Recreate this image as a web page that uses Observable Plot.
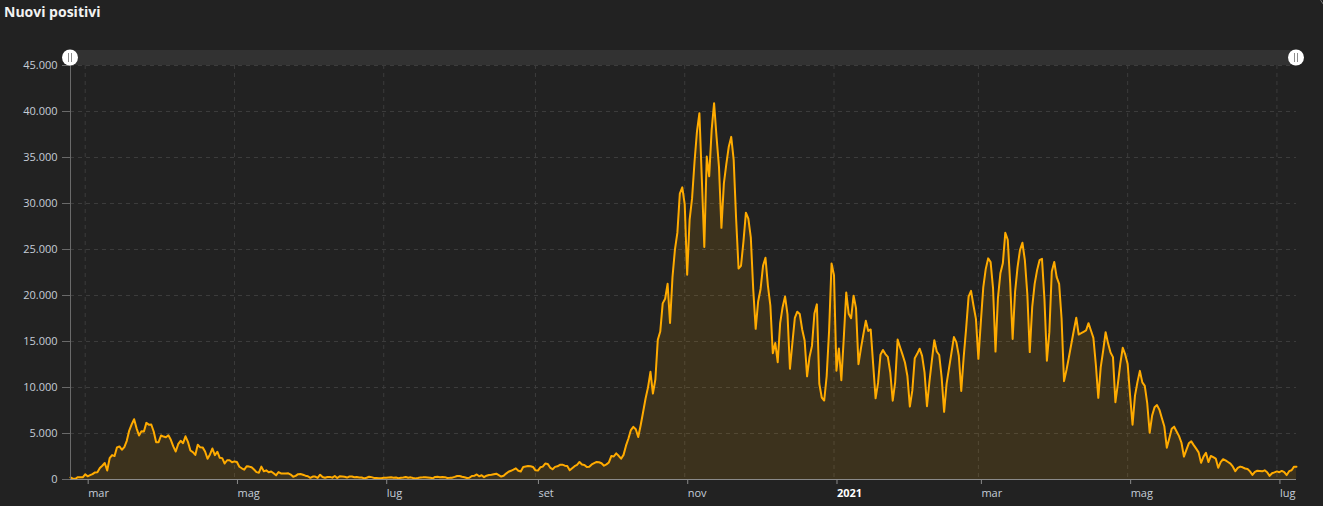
<!DOCTYPE html>
<html>
<head>
<meta charset="utf-8">
<script src="https://cdn.jsdelivr.net/npm/d3@7"></script>
<script src="https://cdn.jsdelivr.net/npm/@observablehq/plot@0.6"></script>
<style>
  html, body { margin: 0; padding: 0; background: #222222; }
  #chart { position: relative; width: 1323px; height: 506px; overflow: hidden; }
  #title { position: absolute; left: 4px; top: 2px; font: bold 14px "Open Sans", sans-serif; color: #f2f2f2; }
  #chart svg { display: block; }
</style>
</head>
<body>
<div id="chart"><div id="title">Nuovi positivi</div></div>
<script>
// Nuovi positivi giornalieri (Italia), un array per mese
const feb2020 = [221, 93, 78, 250, 238, 240];
const mar2020 = [566, 342, 466, 587, 769, 778, 1247, 1492, 1797, 977, 2313, 2651, 2547, 3497, 3590, 3233, 3526, 4207, 5322, 5986, 6557, 5560, 4789, 5249, 5210, 6153, 5959, 5974, 5217, 4050, 4053];
const apr2020 = [4782, 4668, 4585, 4805, 4316, 3599, 3039, 3836, 4204, 3951, 4694, 4092, 3153, 2972, 2667, 3786, 3493, 3491, 3047, 2256, 2729, 3370, 2646, 3021, 2357, 2324, 1739, 2091, 2086, 1872];
const may2020 = [1965, 1900, 1389, 1221, 1075, 1444, 1401, 1327, 1083, 802, 744, 1402, 888, 992, 789, 875, 675, 451, 813, 665, 642, 652, 669, 531, 300, 397, 584, 593, 516, 416, 355];
const jun2020 = [178, 318, 321, 177, 518, 270, 197, 280, 283, 202, 379, 163, 346, 338, 301, 210, 329, 333, 251, 262, 224, 218, 122, 190, 296, 259, 175, 174, 126, 142];
const jul2020 = [187, 201, 223, 235, 192, 208, 138, 193, 229, 276, 188, 234, 169, 114, 162, 230, 233, 249, 219, 190, 129, 282, 306, 252, 275, 255, 170, 181, 202, 289, 386];
const aug2020 = [379, 295, 239, 159, 190, 384, 402, 552, 347, 463, 259, 412, 481, 523, 574, 629, 479, 320, 403, 642, 845, 947, 1071, 1210, 953, 878, 1367, 1411, 1460, 1444, 1365];
const sep2020 = [996, 975, 1326, 1397, 1733, 1695, 1297, 1108, 1370, 1434, 1597, 1616, 1501, 1456, 1008, 1229, 1452, 1585, 1907, 1638, 1587, 1350, 1392, 1640, 1786, 1912, 1869, 1766, 1494, 1648];
const oct2020 = [1851, 2548, 2499, 2844, 2578, 2257, 2677, 3678, 4458, 5372, 5724, 5456, 4619, 5901, 7332, 8804, 10010, 11705, 9338, 10874, 15199, 16079, 19143, 19644, 21273, 17012, 21994, 24991, 26831, 31084, 31758];
const nov2020 = [29907, 22253, 28244, 30550, 34505, 37809, 39811, 32616, 25271, 35098, 32961, 37978, 40902, 37255, 33979, 27354, 32191, 34283, 36176, 37242, 34767, 28337, 22930, 23232, 25853, 29003, 28352, 26323, 20648, 16377];
const dec2020 = [19350, 20709, 23225, 24099, 21052, 18887, 13720, 14842, 12756, 16999, 18727, 19903, 17938, 12030, 14844, 17572, 18236, 17992, 16308, 15104, 11212, 13318, 14522, 18040, 19037, 10407, 8913, 8585, 11224, 16202, 23477];
const jan2021 = [22211, 11831, 14245, 10800, 15378, 20331, 18020, 17533, 19978, 18627, 12532, 14242, 15774, 17246, 16146, 16310, 12545, 8824, 10497, 13571, 14078, 13633, 13331, 11629, 8561, 10593, 15204, 14372, 13574, 12715, 11252];
const feb2021 = [7925, 9660, 13189, 13659, 14218, 13442, 11641, 7970, 10630, 12956, 15146, 13908, 13532, 11068, 7351, 10386, 12074, 13762, 15479, 14931, 13452, 9630, 13314, 16424, 19886, 20499, 18916, 17455];
const mar2021 = [13114, 17083, 20884, 22865, 24036, 23641, 20765, 13902, 19749, 22409, 23500, 26824, 26062, 21315, 15267, 20396, 23059, 24935, 25735, 23832, 20159, 13846, 18765, 21267, 22757, 23839, 23987, 19611, 12916, 16017, 22600];
const apr2021 = [23650, 22000, 21270, 17500, 10690, 11900, 13300, 14750, 16200, 17580, 15760, 15900, 16050, 16200, 16990, 16200, 15400, 12500, 8880, 12210, 14000, 16010, 14800, 13800, 13300, 8400, 10400, 12600, 14320, 13600];
const may2021 = [12545, 9148, 5948, 9116, 10585, 11807, 10554, 10176, 8292, 5080, 6946, 7852, 8085, 7567, 6659, 5753, 3455, 4452, 5506, 5741, 5218, 4717, 3995, 2490, 3224, 3937, 4147, 3738, 3351, 2949, 1820];
const jun2021 = [2483, 2897, 1896, 2557, 2436, 2275, 1273, 1896, 2199, 2079, 1901, 1723, 1390, 907, 1255, 1402, 1325, 1197, 1147, 881, 495, 835, 951, 927, 887, 1000, 786, 389, 679, 776];
const jul2021 = [882, 794, 932, 808, 480, 907, 1010, 1394, 1390];

// primo giorno di ciascun array
const monthStarts = ["2020-02-24", "2020-03-01", "2020-04-01", "2020-05-01", "2020-06-01", "2020-07-01", "2020-08-01", "2020-09-01", "2020-10-01", "2020-11-01", "2020-12-01", "2021-01-01", "2021-02-01", "2021-03-01", "2021-04-01", "2021-05-01", "2021-06-01", "2021-07-01"];
const monthValues = [feb2020, mar2020, apr2020, may2020, jun2020, jul2020, aug2020, sep2020, oct2020, nov2020, dec2020, jan2021, feb2021, mar2021, apr2021, may2021, jun2021, jul2021];

// etichette asse x
const xTickDates = ["2020-03-01", "2020-05-01", "2020-07-01", "2020-09-01", "2020-11-01", "2021-03-01", "2021-05-01", "2021-07-01"];
const xTickLabels = ["mar", "mag", "lug", "set", "nov", "mar", "mag", "lug"];
const yearTickDates = ["2021-01-01"];
const yearTickLabels = ["2021"];
const yTicks = [0, 5000, 10000, 15000, 20000, 25000, 30000, 35000, 40000, 45000];

const data = monthValues.flatMap((vals, k) =>
  vals.map((v, i) => ({ date: d3.utcDay.offset(new Date(monthStarts[k]), i), value: v }))
);

const itFormat = d3.formatLocale({ decimal: ",", thousands: ".", grouping: [3], currency: ["€", ""] }).format(",d");
const monthLabel = new Map(xTickDates.map((d, i) => [+new Date(d), xTickLabels[i]]));
const yearLabel = new Map(yearTickDates.map((d, i) => [+new Date(d), yearTickLabels[i]]));
const allTicks = [...xTickDates, ...yearTickDates].map(d => new Date(d));

const orange = "#ffab00";

const chart = Plot.plot({
  width: 1323,
  height: 506,
  marginLeft: 70,
  marginRight: 27,
  marginTop: 65,
  marginBottom: 27,
  style: { background: "#222222", color: "#c5cdd8", fontFamily: "'Open Sans', sans-serif", fontSize: "11px" },
  x: { type: "utc", domain: [data[0].date, data[data.length - 1].date], label: null },
  y: { domain: [0, 45000], label: null },
  marks: [
    Plot.gridY(yTicks, { stroke: "#3c3c3c", strokeOpacity: 1, strokeDasharray: "4,4" }),
    Plot.gridX(allTicks, { stroke: "#3c3c3c", strokeOpacity: 1, strokeDasharray: "4,4" }),
    Plot.areaY(data, { x: "date", y: "value", fill: orange, fillOpacity: 0.12 }),
    Plot.lineY(data, { x: "date", y: "value", stroke: orange, strokeWidth: 2 }),
    Plot.ruleX([data[0].date], { stroke: "#6a6a6a" }),
    Plot.ruleY([0], { stroke: "#8a8a8a" }),
    Plot.axisY(yTicks, { label: null, tickFormat: itFormat, tickSize: 8, tickPadding: 5, stroke: "#6a6a6a", fill: "#c5cdd8" }),
    Plot.axisX(xTickDates.map(d => new Date(d)), {
      label: null, tickFormat: d => monthLabel.get(+d), textAnchor: "start", dx: 3,
      tickSize: 5, tickPadding: 5, stroke: "#8a8a8a", fill: "#c5cdd8"
    }),
    Plot.axisX(yearTickDates.map(d => new Date(d)), {
      label: null, tickFormat: d => yearLabel.get(+d), textAnchor: "start", dx: 3,
      tickSize: 5, tickPadding: 5, stroke: "#8a8a8a", fill: "#ffffff", fontWeight: "bold"
    })
  ]
});

document.getElementById("chart").append(chart);

// barra di zoom in alto con le due maniglie
const [x0, x1] = chart.scale("x").range;
const yTop = chart.scale("y").range[1];
const svg = d3.select(chart);
const bar = svg.append("g");
bar.append("rect").attr("x", x0).attr("y", yTop - 15).attr("width", x1 - x0).attr("height", 15).attr("fill", "#323232");
for (const hx of [x0, x1]) {
  bar.append("circle").attr("cx", hx).attr("cy", yTop - 7.5).attr("r", 8).attr("fill", "#ffffff");
  for (const off of [-1.5, 1.5]) {
    bar.append("line").attr("x1", hx + off).attr("x2", hx + off)
      .attr("y1", yTop - 12).attr("y2", yTop - 3).attr("stroke", "#8c8c8c").attr("stroke-width", 1);
  }
}
svg.append("circle").attr("cx", 1332).attr("cy", -4).attr("r", 12)
  .attr("fill", "none").attr("stroke", "#777").attr("stroke-width", 1);
</script>
</body>
</html>
